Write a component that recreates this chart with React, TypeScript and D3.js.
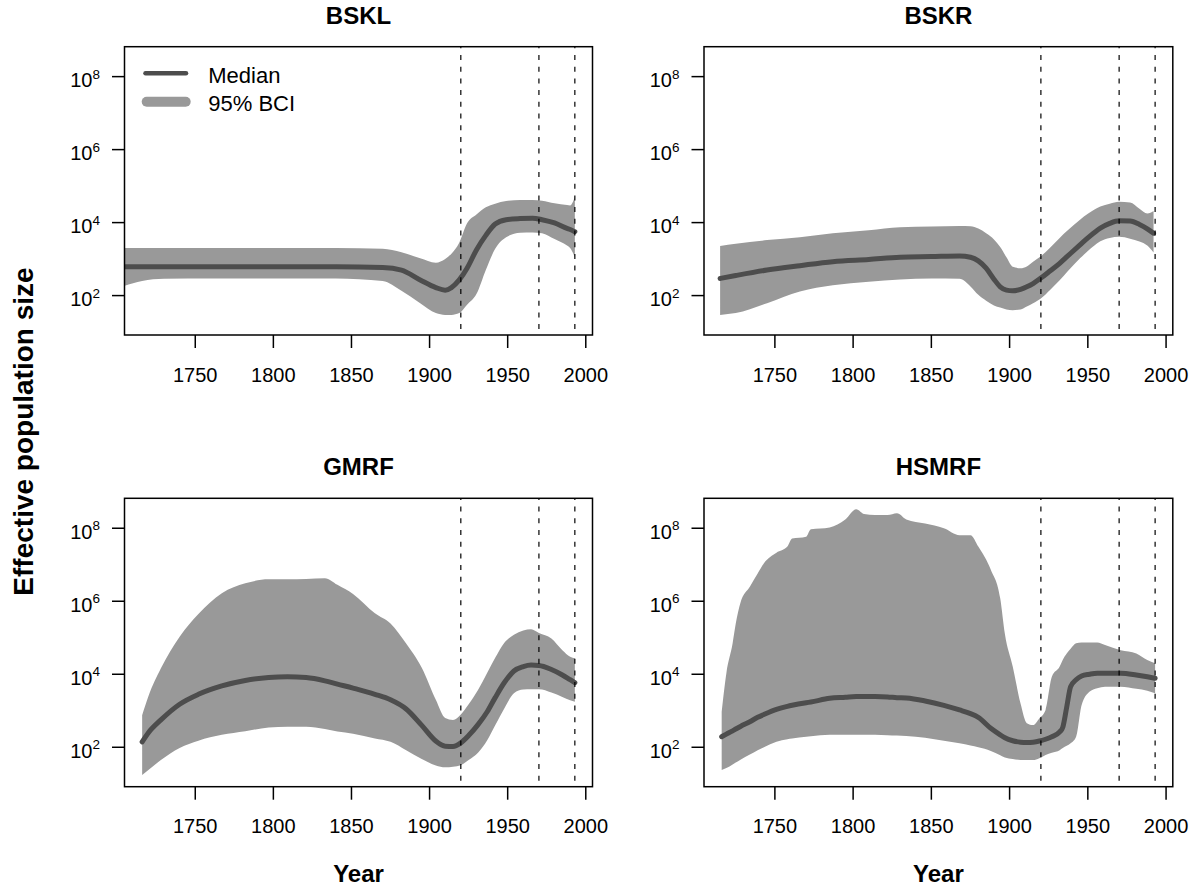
import React from 'react';
import * as d3 from 'd3';

// ---------- DATA ----------
const panelTitles = ['BSKL', 'BSKR', 'GMRF', 'HSMRF'];
const yearTicks = [1750, 1800, 1850, 1900, 1950, 2000];
const neTicks = [1e2, 1e4, 1e6, 1e8];
const neTickExponents = ['2', '4', '6', '8'];
const eventYears = [1920, 1970, 1993];
const legendLabels = ['Median', '95% BCI'];
const xLabel = 'Year';
const yLabel = 'Effective population size';

const bsklYears = [1700, 1716, 1730, 1760, 1800, 1840, 1870, 1882, 1894, 1904, 1910, 1914, 1919, 1924, 1930, 1936, 1942, 1949, 1958, 1966, 1972, 1980, 1988, 1990, 1993];
const bsklMedian = [617, 617, 617, 617, 617, 617, 589, 501, 269, 166, 141, 166, 269, 562, 1780, 4470, 9120, 12000, 12900, 13200, 12000, 9770, 6920, 6460, 5620];
const bsklUpper = [2000, 2000, 2000, 2000, 2000, 2000, 1910, 1550, 1050, 794, 1000, 1410, 2820, 9550, 16600, 26300, 33100, 38900, 41700, 41700, 39800, 33900, 30200, 29500, 50100];
const bsklLower = [158, 251, 288, 295, 295, 295, 251, 135, 61.7, 33.1, 29.5, 29.5, 33.1, 56.2, 110, 501, 1910, 3980, 5250, 5370, 5130, 3550, 2340, 2000, 1120];

const bskrYears = [1715, 1725, 1745, 1766, 1787, 1810, 1830, 1850, 1868, 1875, 1880, 1885, 1890, 1894, 1898, 1902, 1907, 1911, 1915, 1920, 1926, 1932, 1937, 1945, 1950, 1958, 1964, 1970, 1977, 1983, 1988, 1992];
const bskrMedian = [295, 355, 501, 661, 851, 977, 1120, 1170, 1220, 1120, 891, 562, 282, 174, 141, 135, 148, 174, 214, 302, 479, 767, 1200, 2450, 3800, 7080, 9550, 11200, 11000, 8910, 6760, 5130];
const bskrUpper = [2290, 2630, 3310, 3980, 5130, 6170, 7410, 7760, 8130, 7940, 6920, 5130, 3470, 2140, 1120, 617, 562, 631, 851, 1200, 2090, 3800, 6030, 12000, 17400, 27500, 33100, 37200, 35500, 24000, 17800, 20900];
const bskrLower = [29.5, 33.1, 61.7, 129, 191, 240, 275, 295, 288, 178, 105, 72.4, 53.7, 46.8, 41.7, 39.8, 41.7, 50.1, 61.7, 83.2, 145, 263, 457, 1050, 1660, 3090, 3800, 4070, 3630, 3020, 2340, 1510];

const gmrfYears = [1716, 1720, 1728, 1740, 1752, 1767, 1782, 1797, 1809, 1821, 1833, 1841, 1851, 1865, 1875, 1885, 1895, 1904, 1910, 1915, 1920, 1925, 1931, 1937, 1942, 1948, 1954, 1960, 1965, 1970, 1978, 1985, 1990, 1993];
const gmrfMedian = [141, 251, 562, 1510, 2820, 4790, 6760, 8130, 8510, 8130, 6610, 5370, 4170, 2820, 2000, 1120, 398, 148, 107, 105, 132, 209, 417, 955, 2290, 6030, 12300, 16200, 17800, 17400, 13500, 9550, 7080, 5890];
const gmrfUpper = [759, 2510, 14500, 107000, 447000, 1660000, 3090000, 3980000, 3980000, 4070000, 4270000, 2820000, 1580000, 468000, 245000, 69200, 15100, 2000, 631, 562, 794, 1510, 3720, 11200, 28200, 74100, 120000, 158000, 170000, 135000, 95500, 45700, 30200, 27500];
const gmrfLower = [17.4, 24, 44.7, 95.5, 151, 219, 275, 347, 363, 363, 316, 269, 234, 174, 141, 83.2, 47.9, 31.6, 28.2, 29.5, 32.4, 44.7, 70.8, 158, 398, 1200, 3020, 3800, 3890, 3890, 3160, 2400, 1950, 1780];

const hsmrfYears = [1716, 1719, 1723, 1725, 1728, 1734, 1739, 1743, 1751, 1758, 1761, 1770, 1773, 1785, 1795, 1802, 1807, 1814, 1822, 1828, 1834, 1846, 1858, 1868, 1875, 1880, 1888, 1894, 1897, 1902, 1907, 1911, 1915, 1919, 1923, 1927, 1932, 1934, 1936.5, 1939, 1942.5, 1946, 1951, 1956, 1961, 1971, 1981, 1988, 1993];
const hsmrfMedian = [195, 229, 282, 316, 372, 501, 661, 794, 1100, 1320, 1410, 1660, 1740, 2190, 2340, 2450, 2450, 2450, 2400, 2290, 2240, 1860, 1410, 1050, 832, 661, 331, 219, 182, 151, 138, 135, 138, 148, 166, 195, 263, 355, 1260, 4570, 7080, 8910, 10000, 10700, 10700, 10700, 9550, 8510, 7760];
const hsmrfUpper = [933, 10700, 70800, 245000, 912000, 2510000, 5750000, 11000000, 21400000, 31600000, 52500000, 58900000, 93300000, 105000000, 174000000, 331000000, 245000000, 229000000, 229000000, 257000000, 174000000, 135000000, 100000000, 64600000, 64600000, 31600000, 7240000, 1200000, 126000, 16200, 1580, 457, 407, 617, 1050, 8510, 16200, 25100, 37200, 50100, 70800, 74100, 74100, 74100, 63100, 45700, 37200, 24500, 20000];
const hsmrfLower = [24, 26.9, 33.9, 38, 45.7, 63.1, 83.2, 100, 141, 166, 174, 195, 200, 219, 219, 219, 219, 219, 214, 209, 204, 182, 151, 129, 112, 100, 79.4, 60.3, 52.5, 47.9, 44.7, 44.7, 44.7, 50.1, 61.7, 70.8, 83.2, 95.5, 110, 129, 195, 1410, 3310, 4170, 4570, 4570, 3980, 3550, 3020];

// ---------- STYLE / LAYOUT ----------
const W = 1198;
const H = 888;
const FONT = "'Liberation Sans', Arial, Helvetica, sans-serif";
const MEDIAN_COLOR = '#4d4d4d';
const BAND_COLOR = '#999999';
const X_DOMAIN: [number, number] = [1704.7, 2004.3];
const Y_DOMAIN: [number, number] = [Math.pow(10, 0.92), Math.pow(10, 8.82)];

const boxes = [
  { x0: 124.5, x1: 592.5, y0: 46.7, y1: 335 },
  { x0: 704, x1: 1172.8, y0: 46.7, y1: 335 },
  { x0: 124.5, x1: 592.5, y0: 498.3, y1: 786.7 },
  { x0: 704, x1: 1172.8, y0: 498.3, y1: 786.7 },
];

const series = [
  { years: bsklYears, median: bsklMedian, upper: bsklUpper, lower: bsklLower },
  { years: bskrYears, median: bskrMedian, upper: bskrUpper, lower: bskrLower },
  { years: gmrfYears, median: gmrfMedian, upper: gmrfUpper, lower: gmrfLower },
  { years: hsmrfYears, median: hsmrfMedian, upper: hsmrfUpper, lower: hsmrfLower },
];

function Panel({ idx }: { idx: number }) {
  const b = boxes[idx];
  const s = series[idx];
  const x = d3.scaleLinear().domain(X_DOMAIN).range([b.x0, b.x1]);
  const y = d3.scaleLog().domain(Y_DOMAIN).range([b.y1, b.y0]);
  const area = d3
    .area<number>()
    .x((_, i) => x(s.years[i]))
    .y0((_, i) => y(s.lower[i]))
    .y1((_, i) => y(s.upper[i]))
    .curve(d3.curveMonotoneX);
  const line = d3
    .line<number>()
    .x((_, i) => x(s.years[i]))
    .y((d) => y(d))
    .curve(d3.curveMonotoneX);
  const clipId = `clip-${idx}`;
  const cx = (b.x0 + b.x1) / 2;
  const bottomRow = idx >= 2;
  return (
    <g>
      <defs>
        <clipPath id={clipId}>
          <rect x={b.x0} y={b.y0} width={b.x1 - b.x0} height={b.y1 - b.y0} />
        </clipPath>
      </defs>
      <g clipPath={`url(#${clipId})`}>
        <path d={area(s.years) || ''} fill={BAND_COLOR} stroke="none" />
        <path
          d={line(s.median) || ''}
          fill="none"
          stroke={MEDIAN_COLOR}
          strokeWidth={5}
          strokeLinecap="round"
          strokeLinejoin="round"
        />
        {eventYears.map((ev) => (
          <line
            key={ev}
            x1={x(ev)}
            x2={x(ev)}
            y1={b.y0}
            y2={b.y1}
            stroke="#000"
            strokeWidth={1.2}
            strokeDasharray="5,6.7"
            strokeDashoffset={3.4}
          />
        ))}
      </g>
      <rect
        x={b.x0}
        y={b.y0}
        width={b.x1 - b.x0}
        height={b.y1 - b.y0}
        fill="none"
        stroke="#000"
        strokeWidth={1.5}
      />
      {/* x axis */}
      {yearTicks.map((t) => (
        <g key={t}>
          <line x1={x(t)} x2={x(t)} y1={b.y1} y2={b.y1 + 13} stroke="#000" strokeWidth={1.5} />
          <text x={x(t)} y={b.y1 + 46.7} textAnchor="middle" fontSize={20} fontFamily={FONT}>
            {t}
          </text>
        </g>
      ))}
      {/* y axis */}
      {neTicks.map((t, i) => (
        <g key={t}>
          <line x1={b.x0 - 12.5} x2={b.x0} y1={y(t)} y2={y(t)} stroke="#000" strokeWidth={1.5} />
          <text x={b.x0 - 24.5} y={y(t) + 10.3} textAnchor="end" fontSize={20} fontFamily={FONT}>
            <tspan>10</tspan>
            <tspan dy={-8.3} fontSize={13.5}>
              {neTickExponents[i]}
            </tspan>
          </text>
        </g>
      ))}
      <text x={cx} y={b.y0 - 23} textAnchor="middle" fontSize={24} fontWeight="bold" fontFamily={FONT}>
        {panelTitles[idx]}
      </text>
      {bottomRow && (
        <text x={cx} y={b.y1 + 95} textAnchor="middle" fontSize={24} fontWeight="bold" fontFamily={FONT}>
          {xLabel}
        </text>
      )}
      {idx === 0 && (
        <g>
          <line x1={145.5} x2={186} y1={73.3} y2={73.3} stroke={MEDIAN_COLOR} strokeWidth={4.5} strokeLinecap="round" />
          <line x1={146.7} x2={185.7} y1={101.7} y2={101.7} stroke={BAND_COLOR} strokeWidth={10} strokeLinecap="round" />
          <text x={208.3} y={83.3} fontSize={22} fontFamily={FONT}>
            {legendLabels[0]}
          </text>
          <text x={208.3} y={110.5} fontSize={22} fontFamily={FONT}>
            {legendLabels[1]}
          </text>
        </g>
      )}
    </g>
  );
}

export default function App() {
  return (
    <svg
      width={W}
      height={H}
      viewBox={`0 0 ${W} ${H}`}
      style={{ position: 'absolute', left: 0, top: 0, background: '#fff' }}
    >
      <rect x={0} y={0} width={W} height={H} fill="#fff" />
      {[0, 1, 2, 3].map((i) => (
        <Panel key={i} idx={i} />
      ))}
      <text
        transform="translate(33,431.5) rotate(-90)"
        textAnchor="middle"
        fontSize={28}
        fontWeight="bold"
        fontFamily={FONT}
      >
        {yLabel}
      </text>
    </svg>
  );
}
